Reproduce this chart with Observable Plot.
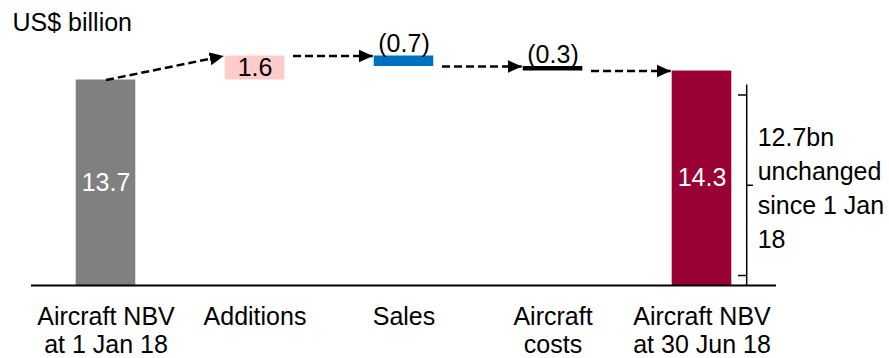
<!DOCTYPE html>
<html>
<head>
<meta charset="utf-8">
<script src="https://cdn.jsdelivr.net/npm/d3@7"></script>
<script src="https://cdn.jsdelivr.net/npm/@observablehq/plot@0.6"></script>
<style>
  html, body { margin: 0; padding: 0; background: #fff; }
  #chart { width: 889px; height: 358px; }
</style>
</head>
<body>
<div id="chart"></div>
<script>
// Aircraft net book value bridge, 1 Jan 18 to 30 Jun 18 (US$ billion)
const unitLabel = "US$ billion";
const categories = ["Aircraft NBV\nat 1 Jan 18", "Additions", "Sales", "Aircraft\ncosts", "Aircraft NBV\nat 30 Jun 18"];
const kinds = ["total", "change", "change", "change", "total"];
const values = [13.7, 1.6, -0.7, -0.3, 14.3];
const barColors = ["#808080", "#ffcccc", "#0070c0", "#000000", "#990033"];
const unchangedSinceStart = 12.7;
const unchangedNote = "unchanged\nsince 1 Jan\n18";

const fmt = d3.format(".1f");
const valueText = v => (v < 0 ? `(${fmt(-v)})` : fmt(v));

// Floating bars: totals stand on zero, changes start from the running level
let level = 0;
const rows = values.map((v, i) => {
  let y1, y2;
  if (kinds[i] === "total") { y1 = 0; y2 = v; level = v; }
  else { y1 = level; y2 = level + v; level = level + v; }
  return {
    i, kind: kinds[i], value: v, y1, y2,
    end: level, top: Math.max(y1, y2), mid: (y1 + y2) / 2,
    color: barColors[i], label: valueText(v), category: categories[i]
  };
});

const halfWidth = 0.2;
const connectors = rows.slice(0, -1).map((r, k) => {
  const next = rows[k + 1];
  return {
    x1: r.kind === "total" ? r.i : r.i + halfWidth + 0.055,
    y1: r.end,
    x2: next.i - halfWidth - 0.01,
    y2: next.top
  };
});

// Solid triangular arrowhead for the dashed connectors
function filledHead(color) {
  const marker = d3.create("svg:marker")
    .attr("viewBox", "-14 -7 14 14")
    .attr("markerWidth", 14)
    .attr("markerHeight", 14)
    .attr("markerUnits", "userSpaceOnUse")
    .attr("refX", 0)
    .attr("refY", 0)
    .attr("orient", "auto");
  marker.append("path")
    .attr("d", "M-14,-6.5L0,0L-14,6.5Z")
    .attr("fill", color)
    .attr("stroke", "none");
  return marker.node();
}

const lastIndex = rows.length - 1;
const bracketX = lastIndex + 0.3;
const bracketInset = 10;
const font = "Liberation Sans, Arial, Helvetica, sans-serif";
const fs = 25;

const chart = Plot.plot({
  width: 889,
  height: 358,
  marginTop: 30,
  marginBottom: 73,
  marginLeft: 31,
  marginRight: 113,
  style: { fontFamily: font, background: "#fff" },
  x: { type: "linear", domain: [-0.5, rows.length - 0.5], axis: null },
  y: { domain: [0, 17], axis: null },
  color: { type: "identity" },
  marks: [
    // bars
    Plot.rectY(rows, {
      x1: d => d.i - halfWidth,
      x2: d => d.i + halfWidth,
      y1: "y1",
      y2: "y2",
      fill: "color"
    }),
    // baseline
    Plot.ruleY([0], { stroke: "#000", strokeWidth: 2 }),
    // labels inside bars (totals and increases)
    Plot.text(rows.filter(d => d.value >= 0), {
      x: "i",
      y: "mid",
      text: "label",
      fill: d => (d.kind === "total" ? "#fff" : "#000"),
      fontSize: fs,
      lineAnchor: "middle"
    }),
    // labels above thin decrease bars
    Plot.text(rows.filter(d => d.value < 0), {
      x: "i",
      y: "top",
      text: "label",
      fill: "#000",
      fontSize: fs,
      lineAnchor: "bottom",
      dy: -4
    }),
    // dashed connectors
    Plot.link(connectors, {
      x1: "x1", y1: "y1", x2: "x2", y2: "y2",
      stroke: "#000",
      strokeWidth: 2.5,
      strokeDasharray: "8,4",
      markerEnd: filledHead
    }),
    // category labels
    Plot.text(rows, {
      x: "i",
      frameAnchor: "bottom",
      text: "category",
      fill: "#000",
      fontSize: fs,
      lineAnchor: "top",
      lineHeight: 1.12,
      dy: 20
    }),
    // bracket for the unchanged part of the closing balance
    Plot.ruleX([bracketX], { y1: 0, y2: unchangedSinceStart, stroke: "#000", strokeWidth: 1.5, insetBottom: bracketInset }),
    Plot.ruleY([unchangedSinceStart], { x1: bracketX - 0.055, x2: bracketX, stroke: "#000", strokeWidth: 1.5 }),
    Plot.ruleY([0], { x1: bracketX - 0.055, x2: bracketX, stroke: "#000", strokeWidth: 1.5, dy: -bracketInset }),
    Plot.ruleY([unchangedSinceStart / 2], { x1: bracketX, x2: bracketX + 0.045, stroke: "#000", strokeWidth: 1.5, dy: -bracketInset / 2 }),
    Plot.text([`${fmt(unchangedSinceStart)}bn\n${unchangedNote}`], {
      x: bracketX,
      y: unchangedSinceStart / 2,
      textAnchor: "start",
      lineAnchor: "middle",
      lineHeight: 1.36,
      fill: "#000",
      fontSize: fs,
      dx: 11,
      dy: -4
    }),
    // unit label
    Plot.text([unitLabel], {
      frameAnchor: "top-left",
      textAnchor: "start",
      lineAnchor: "top",
      fill: "#000",
      fontSize: fs,
      dx: -19,
      dy: -17
    })
  ]
});

document.getElementById("chart").appendChild(chart);
</script>
</body>
</html>
